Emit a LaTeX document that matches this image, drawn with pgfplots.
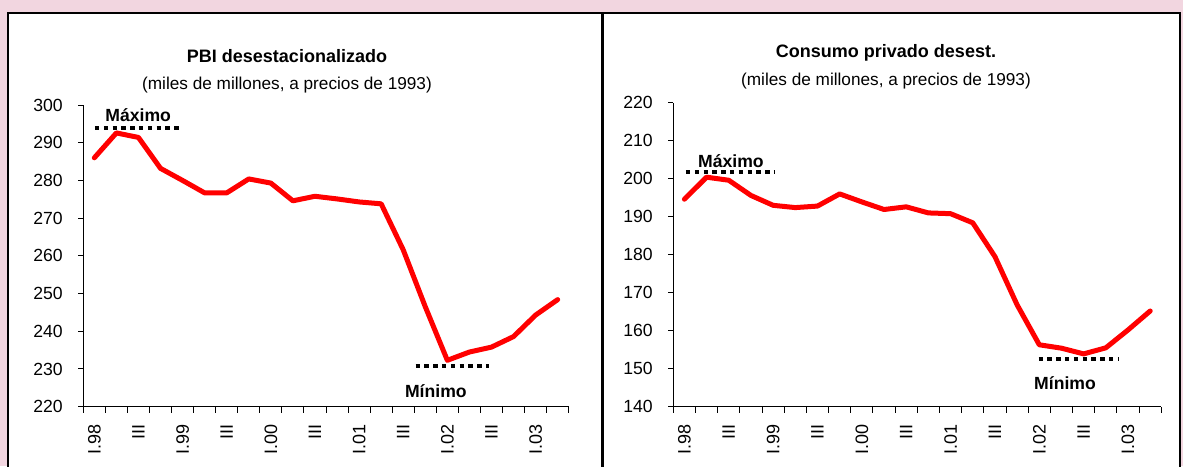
\documentclass[border=0pt]{standalone}
\usepackage{pgfplots}
\pgfplotsset{compat=1.18}
\usepackage{fontspec}
\setmainfont{Liberation Sans}
\definecolor{bgpink}{RGB}{242,214,224}

\pgfplotstableread{
x y
0 286.0
1 292.6
2 291.4
3 283.2
4 280.0
5 276.7
6 276.7
7 280.4
8 279.3
9 274.6
10 275.8
11 275.1
12 274.3
13 273.8
14 261.6
15 246.5
16 232.3
17 234.5
18 235.8
19 238.6
20 244.3
21 248.4
}\pbi

\pgfplotstableread{
x y
0 194.6
1 200.4
2 199.6
3 195.6
4 193.0
5 192.4
6 192.8
7 196.0
8 193.9
9 191.9
10 192.6
11 191.0
12 190.8
13 188.4
14 179.5
15 166.8
16 156.3
17 155.4
18 153.9
19 155.5
20 160.2
21 165.2
}\cons

\pgfplotsset{
  panel/.style={
    scale only axis,
    anchor=south west,
    axis x line=bottom, axis y line=left,
    axis line style={-, line width=0.6pt},
    xmin=-0.5, xmax=21.5,
    xtick={0,2,...,20},
    xticklabels={I.98,III,I.99,III,I.00,III,I.01,III,I.02,III,I.03},
    minor xtick={-0.5,0.5,...,21.5},
    tick align=outside,
    major x tick style={draw=none},
    minor tick length=3pt,
    major tick length=2.5pt,
    tick style={black, line width=0.5pt},
    xticklabel style={rotate=90, anchor=east, font=\fontsize{9}{10}\selectfont},
    yticklabel style={font=\fontsize{8.8}{10}\selectfont},
    xticklabel shift=3pt,
    yticklabel shift=4.3pt,
    /pgf/number format/assume math mode=true,
    clip=false,
  },
  redline/.style={red, line width=2.5pt, line join=round, line cap=round},
  dotline/.style={black, line width=2pt, dash pattern=on 2.2pt off 2.2pt},
}

\begin{document}
\begin{tikzpicture}
\begin{scope}[x=0.5pt,y=-0.5pt]
\useasboundingbox (0,0) rectangle (1183,466);
\fill[bgpink] (0,0) rectangle (1183,466);
\fill[white] (8,13) rectangle (1180,466);
\draw[line width=1.1pt] (8,470) -- (8,13) -- (1180,13) -- (1180,470);
\draw[line width=1.1pt] (602.5,13) -- (602.5,470);
\node[font=\bfseries\fontsize{9}{11}\selectfont] at (287,56) {PBI desestacionalizado};
\node[font=\fontsize{8.6}{11}\selectfont] at (287,85) {(miles de millones, a precios de 1993)};
\node[font=\bfseries\fontsize{9}{11}\selectfont] at (886,53) {Consumo privado desest.};
\node[font=\fontsize{8.6}{11}\selectfont] at (886,81) {(miles de millones, a precios de 1993)};
\end{scope}

\begin{axis}[panel, at={(41.65pt,-203.35pt)}, width=242.7pt, height=150.85pt,
  ymin=220, ymax=300, ytick={220,230,...,300}]
\addplot[redline] table[x=x,y=y] {\pbi};
\addplot[dotline] coordinates {(0.03,294.0) (3.84,294.0)};
\addplot[dotline] coordinates {(14.56,230.8) (17.88,230.8)};
\node[font=\bfseries\fontsize{8.8}{10}\selectfont] at (axis cs:1.99,297.2) {Máximo};
\node[font=\bfseries\fontsize{8.8}{10}\selectfont] at (axis cs:15.48,224.0) {Mínimo};
\end{axis}

\begin{axis}[panel, at={(336.65pt,-203.35pt)}, width=244pt, height=152pt,
  ymin=140, ymax=220, ytick={140,150,...,220}]
\addplot[redline] table[x=x,y=y] {\cons};
\addplot[dotline] coordinates {(0.07,201.7) (4.05,201.7)};
\addplot[dotline] coordinates {(15.97,152.5) (19.55,152.5)};
\node[font=\bfseries\fontsize{8.8}{10}\selectfont] at (axis cs:2.1,204.7) {Máximo};
\node[font=\bfseries\fontsize{8.8}{10}\selectfont] at (axis cs:17.16,146.2) {Mínimo};
\end{axis}
\end{tikzpicture}
\end{document}
